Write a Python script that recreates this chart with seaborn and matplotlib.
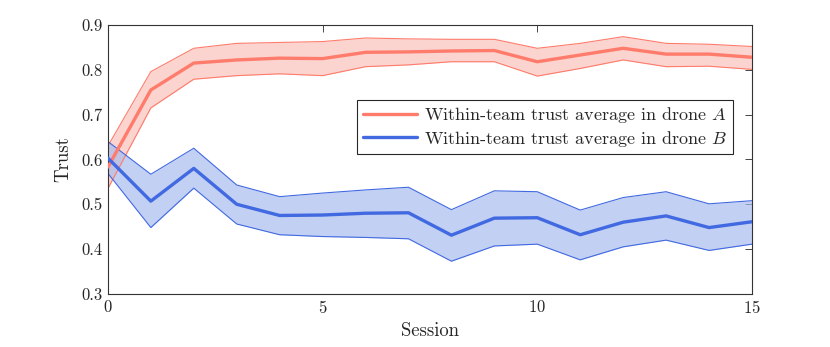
import numpy as np
import pandas as pd
import matplotlib
matplotlib.use("Agg")
import matplotlib.pyplot as plt
import seaborn as sns

sessions = list(range(16))

trust_a_mean = [0.583, 0.755, 0.815, 0.822, 0.826, 0.825, 0.839, 0.840,
                0.842, 0.843, 0.818, 0.833, 0.848, 0.835, 0.835, 0.828]
trust_a_upper = [0.630, 0.796, 0.848, 0.859, 0.861, 0.863, 0.871, 0.869,
                 0.868, 0.868, 0.848, 0.859, 0.874, 0.859, 0.857, 0.852]
trust_a_lower = [0.535, 0.715, 0.779, 0.787, 0.791, 0.787, 0.807, 0.811,
                 0.818, 0.818, 0.786, 0.803, 0.822, 0.807, 0.808, 0.801]

trust_b_mean = [0.603, 0.507, 0.580, 0.500, 0.475, 0.476, 0.480, 0.481,
                0.431, 0.469, 0.470, 0.432, 0.460, 0.474, 0.448, 0.461]
trust_b_upper = [0.640, 0.567, 0.625, 0.543, 0.517, 0.525, 0.532, 0.538,
                 0.488, 0.530, 0.528, 0.487, 0.515, 0.528, 0.501, 0.508]
trust_b_lower = [0.569, 0.448, 0.536, 0.456, 0.432, 0.428, 0.426, 0.423,
                 0.373, 0.407, 0.411, 0.376, 0.405, 0.420, 0.397, 0.411]

labels = ["Within-team trust average in drone $A$",
          "Within-team trust average in drone $B$"]
colors = ["#FF7B6B", "#4169E1"]
fills = ["#FAC3BD", "#A9BDEE"]

sns.set_style("white")
plt.rcParams["font.family"] = ["cmr10", "DejaVu Serif"]
plt.rcParams["mathtext.fontset"] = "cm"
plt.rcParams["axes.formatter.use_mathtext"] = True

df = pd.DataFrame({
    "Session": sessions * 2,
    "Trust": trust_a_mean + trust_b_mean,
    "series": [labels[0]] * 16 + [labels[1]] * 16,
})

fig = plt.figure(figsize=(8.3, 3.47), dpi=100)
ax = fig.add_axes([0.130, 0.153, 0.776, 0.775])

bands = [(trust_a_lower, trust_a_upper), (trust_b_lower, trust_b_upper)]
for (lo, hi), c, f in zip(bands, colors, fills):
    ax.fill_between(sessions, lo, hi, color=f, alpha=0.7, lw=0, zorder=1)
    ax.plot(sessions, lo, color=c, lw=0.8, zorder=2)
    ax.plot(sessions, hi, color=c, lw=0.8, zorder=2)

sns.lineplot(data=df, x="Session", y="Trust", hue="series",
             palette=colors, lw=2.4, ax=ax, zorder=3)

ax.set_xlim(0, 15)
ax.set_ylim(0.3, 0.9)
ax.set_xticks([0, 5, 10, 15])
ax.set_yticks(np.arange(0.3, 0.91, 0.1))
ax.set_yticklabels(["0.3", "0.4", "0.5", "0.6", "0.7", "0.8", "0.9"])
ax.set_xlabel("Session", fontsize=13.5, labelpad=4)
ax.set_ylabel("Trust", fontsize=13.5, labelpad=6)
ax.tick_params(direction="in", top=True, right=True, length=5, width=0.6,
               labelsize=12, colors="#262626", pad=4)
for sp in ax.spines.values():
    sp.set_color("#333333")
    sp.set_linewidth(0.8)

leg = ax.legend(loc="upper left", bbox_to_anchor=(0.387, 0.722),
                fontsize=13, frameon=True, fancybox=False, framealpha=1,
                edgecolor="#262626", borderpad=0.3, handlelength=3.0,
                handletextpad=0.4, labelspacing=0.2, borderaxespad=0)
leg.get_frame().set_linewidth(0.8)

fig.savefig("out.png", dpi=100)
